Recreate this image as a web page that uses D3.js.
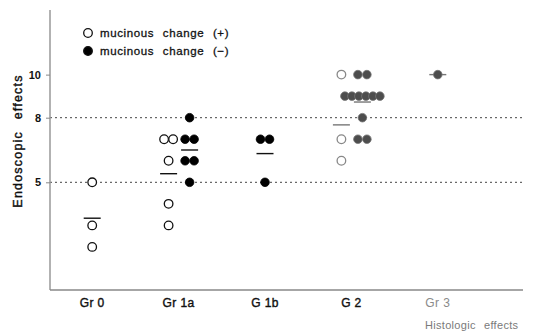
<!DOCTYPE html>
<html>
<head>
<meta charset="utf-8">
<script src="https://cdn.jsdelivr.net/npm/d3@7"></script>
<style>
  body { margin: 0; background: #fff; }
  svg { font-family: "Liberation Sans", Arial, sans-serif; }
</style>
</head>
<body>
<svg id="chart" width="553" height="333"></svg>
<script>
// groups along the histologic axis
var groups = ["Gr 0", "Gr 1a", "G 1b", "G 2", "Gr 3"];
// endoscopic effect scores, mucinous change (+) = open circles
var openVals = [[5, 3, 2], [7, 7, 6, 4, 3], [], [10, 7, 6], []];
// mucinous change (-) = filled circles
var filledVals = [[], [8, 7, 7, 6, 6, 5], [7, 7, 5], [10, 10, 9, 9, 9, 9, 9, 9, 8, 7, 7], [10]];
var yTicks = [5, 8, 10];
var gridVals = [5, 8];

var svg = d3.select("#chart");

var xScale = d3.scaleBand()
    .domain(groups)
    .range([49, 481]);

var yScale = d3.scaleLinear()
    .domain([0, 13])
    .range([290, 10]);

// right half of the scan is lighter
function faded(g) { return g === "G 2" || g === "Gr 3"; }

// dashed reference lines
svg.append("g")
  .selectAll("line")
  .data(gridVals)
  .enter()
  .append("line")
    .attr("x1", 50)
    .attr("x2", 523)
    .attr("y1", function(d) { return yScale(d); })
    .attr("y2", function(d) { return yScale(d); })
    .style("stroke", "#444")
    .style("stroke-width", 1)
    .style("stroke-dasharray", "2,3");

// axes
svg.append("line")
    .attr("x1", 50).attr("x2", 50)
    .attr("y1", yScale(13)).attr("y2", yScale(0))
    .style("stroke", "#999").style("stroke-width", 1.5);
svg.append("line")
    .attr("x1", 50).attr("x2", 523)
    .attr("y1", yScale(0)).attr("y2", yScale(0))
    .style("stroke", "#888").style("stroke-width", 1.5);

var yAxis = svg.append("g")
    .attr("transform", "translate(50,0)")
    .call(d3.axisLeft(yScale).tickValues(yTicks).tickSize(4).tickPadding(5));
yAxis.select(".domain").remove();
yAxis.selectAll(".tick line").style("stroke", "#888");
yAxis.selectAll(".tick text")
    .style("font-size", "11px")
    .style("font-weight", "bold")
    .style("fill", "#111")
    .style("font-family", "'Liberation Sans', Arial, sans-serif");

// group labels
svg.append("g")
  .selectAll("text")
  .data(groups)
  .enter()
  .append("text")
    .attr("x", function(d) { return xScale(d) + xScale.bandwidth() / 2; })
    .attr("y", 307)
    .attr("text-anchor", "middle")
    .style("font-size", "12px")
    .style("letter-spacing", "0.4px")
    .style("fill", function(d) { return d === "Gr 3" ? "#8a8a8a" : "#111"; })
    .style("stroke", function(d) { return d === "Gr 3" ? "none" : "#111"; })
    .style("stroke-width", 0.4)
    .text(function(d) { return d; });

svg.append("text")
    .attr("x", 425)
    .attr("y", 329)
    .style("font-size", "11px")
    .style("word-spacing", "5px")
    .style("letter-spacing", "0.3px")
    .style("fill", "#7a7a7a")
    .text("Histologic effects");

svg.append("text")
    .attr("transform", "translate(22,141) rotate(-90)")
    .attr("text-anchor", "middle")
    .style("font-size", "12.5px")
    .style("letter-spacing", "1.2px")
    .style("word-spacing", "7px")
    .style("fill", "#111")
    .style("stroke", "#111")
    .style("stroke-width", 0.4)
    .text("Endoscopic effects");

// build point positions: circles of equal value sit side by side
var points = [];
var means = [];
groups.forEach(function(g, i) {
  var center = xScale(g) + xScale.bandwidth() / 2;
  var both = openVals[i].length && filledVals[i].length;
  [["open", openVals[i], both ? -10 : 0], ["filled", filledVals[i], both ? 11 : 0]].forEach(function(s) {
    var vals = s[1];
    if (!vals.length) return;
    var cx = center + s[2];
    var counts = d3.rollup(vals, function(v) { return v.length; }, function(v) { return v; });
    counts.forEach(function(n, v) {
      var gap = n > 3 ? 7 : 9;
      for (var k = 0; k < n; k++) {
        points.push({ group: g, type: s[0], value: v, x: cx + (k - (n - 1) / 2) * gap });
      }
    });
    means.push({ group: g, type: s[0], value: d3.mean(vals), x: cx });
  });
});

// mean bars
svg.append("g")
  .selectAll("line")
  .data(means)
  .enter()
  .append("line")
    .attr("x1", function(d) { return d.x - 8.5; })
    .attr("x2", function(d) { return d.x + 8.5; })
    .attr("y1", function(d) { return yScale(d.value); })
    .attr("y2", function(d) { return yScale(d.value); })
    .style("stroke", function(d) { return faded(d.group) ? "#777" : "#111"; })
    .style("stroke-width", 1.4);

svg.append("g")
  .selectAll("circle")
  .data(points)
  .enter()
  .append("circle")
    .attr("cx", function(d) { return d.x; })
    .attr("cy", function(d) { return yScale(d.value); })
    .attr("r", 4.3)
    .style("fill", function(d) {
      if (d.type === "open") return "#fff";
      return faded(d.group) ? "#4d4d4d" : "#000";
    })
    .style("stroke", function(d) {
      if (d.type === "open") return faded(d.group) ? "#888" : "#111";
      return faded(d.group) ? "#777" : "#000";
    })
    .style("stroke-width", function(d) { return d.type === "open" ? 1.3 : 0.8; });

// legend
var legend = [["open", "mucinous change (+)", 33], ["filled", "mucinous change (\u2212)", 51]];
var lg = svg.append("g");
legend.forEach(function(l) {
  lg.append("circle")
      .attr("cx", 88)
      .attr("cy", l[2])
      .attr("r", 4.3)
      .style("fill", l[0] === "open" ? "#fff" : "#000")
      .style("stroke", "#111")
      .style("stroke-width", 1.3);
  lg.append("text")
      .attr("x", 100)
      .attr("y", l[2] + 4)
      .style("font-size", "11.5px")
      .style("word-spacing", "5px")
      .style("letter-spacing", "0.6px")
      .style("fill", "#111")
      .style("stroke", "#111")
      .style("stroke-width", 0.3)
      .text(l[1]);
});
</script>
</body>
</html>
